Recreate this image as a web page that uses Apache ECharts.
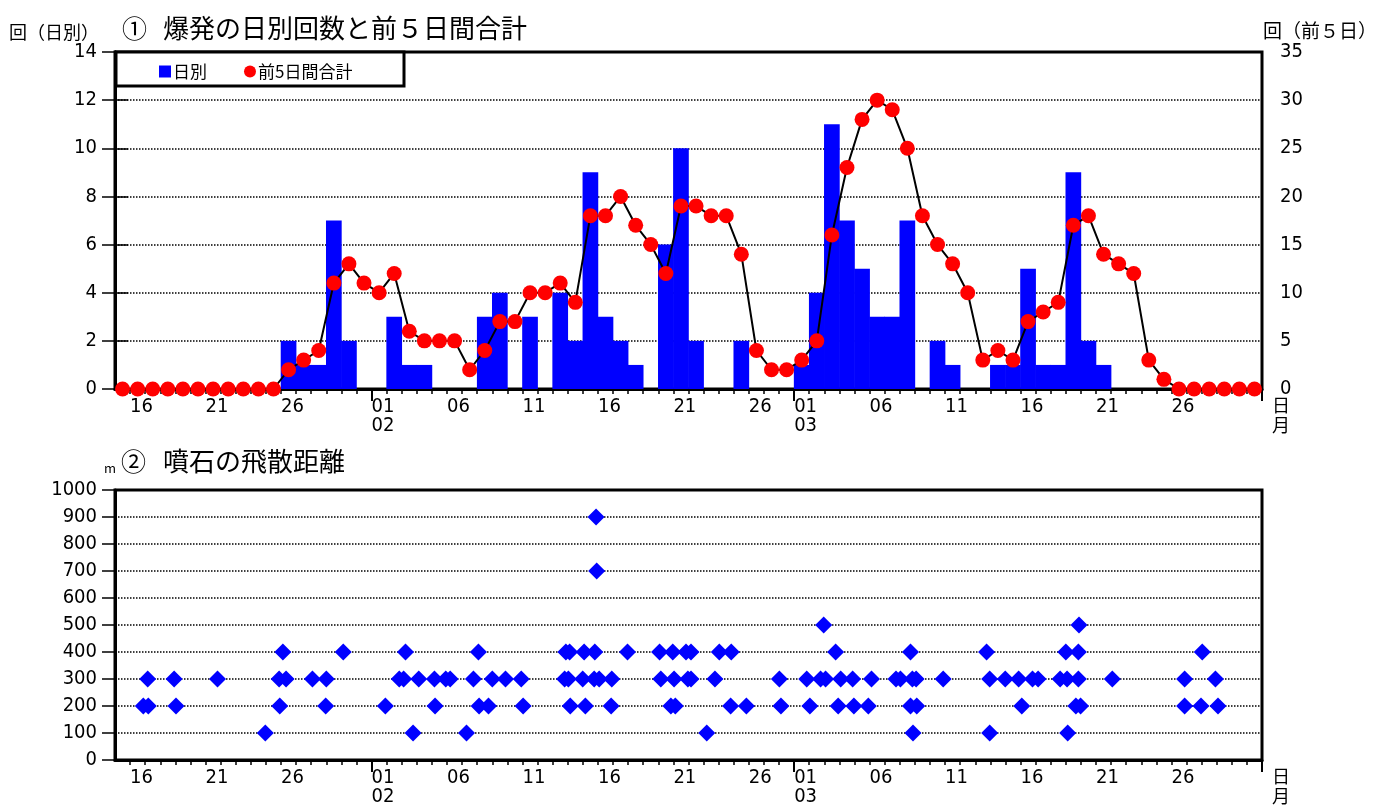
<!DOCTYPE html>
<html>
<head>
<meta charset="utf-8">
<script src="https://cdn.jsdelivr.net/npm/echarts@6/dist/echarts.min.js"></script>
<style>
  html, body { margin: 0; padding: 0; background: #fff; }
  #chart { width: 1398px; height: 807px; }
</style>
</head>
<body>
<div id="chart"></div>
<script>
// Period shown: 01-15 .. 03-31 (76 days, non-leap year)
const dayCount = 76;

// Daily explosion counts, one value per day starting 01-15
const dailyCounts = [
  // Jan 15-31
  0, 0, 0, 0, 0, 0, 0, 0, 0, 0, 0, 2, 1, 1, 7, 2, 0,
  // Feb 1-28
  0, 3, 1, 1, 0, 0, 0, 3, 4, 0, 3, 0, 4, 2, 9, 3, 2, 1, 0, 6, 10, 2, 0, 0, 2, 0, 0, 0,
  // Mar 1-31
  1, 4, 11, 7, 5, 3, 3, 7, 0, 2, 1, 0, 0, 1, 1, 5, 1, 1, 9, 2, 1, 0, 0, 0, 0, 0, 0, 0, 0, 0, 0
];

// Total of the preceding five days (right axis)
const fiveDayTotals = [
  // Jan 15-31
  0, 0, 0, 0, 0, 0, 0, 0, 0, 0, 0, 2, 3, 4, 11, 13, 11,
  // Feb 1-28
  10, 12, 6, 5, 5, 5, 2, 4, 7, 7, 10, 10, 11, 9, 18, 18, 20, 17, 15, 12, 19, 19, 18, 18, 14, 4, 2, 2,
  // Mar 1-31
  3, 5, 16, 23, 28, 30, 29, 25, 18, 15, 13, 10, 3, 4, 3, 7, 8, 9, 17, 18, 14, 13, 12, 3, 1, 0, 0, 0, 0, 0, 0
];

// Dates that carry a day label on the time axes
const labelDates = ['01-16', '01-21', '01-26', '02-01', '02-06', '02-11', '02-16', '02-21', '02-26',
                    '03-01', '03-06', '03-11', '03-16', '03-21', '03-26'];
// Month boundaries that get a long tick
const monthBoundaries = ['02-01', '03-01', '04-01'];

// Ballistic block reach: [date time, distance in m]
const ejectaTimes = [
  '01-16 21:00', '01-17 05:00', '01-17 04:00', '01-18 22:00', '01-19 01:00', '01-21 19:00', '01-24 23:00',
  '01-25 21:00', '01-25 22:00', '01-26 03:00', '01-26 08:00', '01-28 02:00', '01-29 00:00', '01-28 23:00',
  '01-30 03:00',
  '02-01 22:00', '02-02 20:00', '02-03 03:00', '02-03 06:00', '02-03 18:00', '02-04 03:00', '02-05 04:00',
  '02-05 05:00', '02-05 22:00', '02-06 05:00', '02-07 07:00', '02-07 18:00', '02-08 02:00', '02-08 03:00',
  '02-08 18:00', '02-09 00:00', '02-09 21:00', '02-10 22:00', '02-11 01:00', '02-13 21:00', '02-14 03:00',
  '02-15 02:00', '02-15 19:00', '02-15 21:00', '02-15 22:00', '02-13 19:00', '02-14 01:00', '02-14 23:45',
  '02-15 18:00', '02-16 02:00', '02-16 22:00', '02-14 04:00', '02-15 04:00', '02-16 21:00', '02-17 23:00',
  '02-20 02:00', '02-20 23:00', '02-21 20:00', '02-22 04:00', '02-20 04:00', '02-21 01:00', '02-21 23:00',
  '02-22 04:00', '02-20 20:00', '02-21 03:00', '02-23 05:00', '02-24 01:00', '02-24 20:00', '02-23 18:00',
  '02-24 19:00', '02-25 20:00', '02-28 00:30', '02-28 03:00',
  '03-01 20:00', '03-02 18:00', '03-03 02:00', '03-04 02:00', '03-04 21:00', '03-06 03:00', '03-07 18:00',
  '03-08 01:00', '03-08 20:00', '03-09 02:00', '03-02 23:00', '03-03 18:00', '03-08 17:00', '03-02 01:00',
  '03-03 22:00', '03-04 23:00', '03-05 22:00', '03-08 17:00', '03-09 03:00', '03-08 21:00', '03-10 21:00',
  '03-13 18:00', '03-13 23:00', '03-13 23:00', '03-14 23:45', '03-15 21:00', '03-16 19:00', '03-17 04:00',
  '03-16 02:00', '03-19 00:00', '03-19 20:00', '03-18 15:00', '03-19 02:00', '03-19 20:00', '03-19 16:00',
  '03-19 23:30', '03-19 21:00', '03-19 03:00', '03-22 02:00', '03-26 21:00', '03-26 21:00', '03-28 01:00',
  '03-27 23:00', '03-28 22:00', '03-29 02:00'
];
const ejectaDistances = [
  200, 200, 300, 300, 200, 300, 100,
  300, 200, 400, 300, 300, 300, 200,
  400,
  200, 300, 300, 400, 100, 300, 300,
  200, 300, 300, 100, 300, 400, 200,
  200, 300, 300, 300, 200, 400, 400,
  400, 400, 900, 700, 300, 300, 300,
  300, 300, 300, 200, 200, 200, 400,
  400, 400, 400, 400, 300, 300, 300,
  300, 200, 200, 100, 400, 400, 300,
  200, 200, 300, 200,
  300, 300, 300, 300, 300, 300, 300,
  300, 300, 300, 500, 400, 400, 200,
  200, 200, 200, 200, 200, 100, 300,
  400, 300, 100, 300, 300, 300, 300,
  200, 400, 400, 300, 300, 300, 200,
  200, 500, 100, 300, 300, 200, 400,
  200, 300, 200
];

// ---- date helpers: day index counted from 01-15 00:00 ----
const monthStartDay = { 1: 0, 2: 31, 3: 59, 4: 90 };
function dayIndex(md) {
  const [m, d] = md.split('-').map(Number);
  return monthStartDay[m] + d - 15;
}
function timeIndex(mdhm) {
  const [md, hm] = mdhm.split(' ');
  const [h, mi] = hm.split(':').map(Number);
  return dayIndex(md) + (h + mi / 60) / 24;
}

// axis label text per tick value
const labelText = { 0: '\n01' };
labelDates.forEach(md => {
  const [m, d] = md.split('-');
  labelText[dayIndex(md)] = d === '01' ? d + '\n' + m : d;
});
const labelValues = Object.keys(labelText).map(Number);
const monthTickValues = monthBoundaries.map(dayIndex);

const numFont = '"DejaVu Sans Condensed", "Liberation Sans", sans-serif';
const jpFont = '"Noto Sans CJK JP", "Noto Sans", sans-serif';

const gridLeft = 115, gridWidth = 1147;
const dayWidth = gridWidth / dayCount;

function dayAxes(gridIndex) {
  return [{
    type: 'value', gridIndex, min: 0, max: dayCount, interval: 1, position: 'bottom',
    axisLine: { show: true, onZero: false, lineStyle: { color: '#000', width: 3 } },
    axisTick: { show: true, length: 5, lineStyle: { color: '#000', width: 1.5 } },
    axisLabel: {
      customValues: labelValues,
      formatter: v => labelText[v] || '',
      align: 'left', verticalAlign: 'top', margin: 8,
      fontSize: 20, lineHeight: 19, fontFamily: numFont, color: '#000'
    },
    splitLine: { show: false }
  }, {
    type: 'value', gridIndex, min: 0, max: dayCount, position: 'bottom',
    axisLine: { show: false },
    axisTick: { show: true, customValues: monthTickValues, length: 12, lineStyle: { color: '#000', width: 2 } },
    axisLabel: { show: false },
    splitLine: { show: false }
  }];
}

const dottedGrid = { show: true, lineStyle: { color: '#000', width: 1.5, type: [1.5, 1.5] } };
const yLabel = { fontSize: 20, fontFamily: numFont, color: '#000', margin: 18, formatter: v => String(v) };
const yTick = { show: true, length: 13, lineStyle: { color: '#000', width: 1.5 } };
const yLine = { show: true, lineStyle: { color: '#000', width: 3 } };

const chart = echarts.init(document.getElementById('chart'), null, { renderer: 'canvas' });

chart.setOption({
  animation: false,
  backgroundColor: '#fff',
  grid: [
    { left: gridLeft, width: gridWidth, top: 52, height: 337, show: true, borderColor: '#000', borderWidth: 3, backgroundColor: 'transparent' },
    { left: gridLeft, width: gridWidth, top: 490, height: 270, show: true, borderColor: '#000', borderWidth: 3, backgroundColor: 'transparent' }
  ],
  xAxis: [...dayAxes(0), ...dayAxes(1)],
  yAxis: [
    { type: 'value', gridIndex: 0, min: 0, max: 14, interval: 2, position: 'left',
      axisLine: yLine, axisTick: yTick, axisLabel: yLabel, splitLine: dottedGrid },
    { type: 'value', gridIndex: 0, min: 0, max: 35, interval: 5, position: 'right',
      axisLine: yLine, axisTick: yTick, axisLabel: yLabel, splitLine: { show: false } },
    { type: 'value', gridIndex: 1, min: 0, max: 1000, interval: 100, position: 'left',
      axisLine: yLine, axisTick: yTick, axisLabel: yLabel, splitLine: dottedGrid }
  ],
  legend: {
    left: 159, top: 63, z: 20, padding: 0,
    selectedMode: false,
    itemWidth: 12, itemHeight: 12, itemGap: 37,
    textStyle: { fontSize: 17, fontFamily: jpFont, color: '#000', padding: [0, 0, 0, -3] },
    data: [{ name: '日別', icon: 'rect' }, { name: '前5日間合計', icon: 'circle', itemStyle: { color: '#ff0000' } }]
  },
  graphic: [
    { type: 'rect', z: 15, shape: { x: 116, y: 52, width: 288, height: 34 },
      style: { fill: '#fff', stroke: '#000', lineWidth: 3 } },
    { type: 'text', x: 122, y: 28, style: { text: '①', font: '25px ' + jpFont, fill: '#000', verticalAlign: 'middle' } },
    { type: 'text', x: 163, y: 28, style: { text: '爆発の日別回数と前５日間合計', font: '26px ' + jpFont, fill: '#000', verticalAlign: 'middle' } },
    { type: 'text', x: 9, y: 32, style: { text: '回（日別）', font: '18px ' + jpFont, fill: '#000', verticalAlign: 'middle' } },
    { type: 'text', x: 1263, y: 31, style: { text: '回（前５日）', font: '19px ' + jpFont, fill: '#000', verticalAlign: 'middle' } },
    { type: 'text', x: 1272, y: 395, style: { text: '日\n月', font: '18px ' + jpFont, lineHeight: 20, fill: '#000' } },
    { type: 'text', x: 121, y: 461, style: { text: '②', font: '25px ' + jpFont, fill: '#000', verticalAlign: 'middle' } },
    { type: 'text', x: 163, y: 461, style: { text: '噴石の飛散距離', font: '26px ' + jpFont, fill: '#000', verticalAlign: 'middle' } },
    { type: 'text', x: 104, y: 468, style: { text: 'm', font: '13px ' + jpFont, fill: '#000', verticalAlign: 'middle' } },
    { type: 'text', x: 1272, y: 766, style: { text: '日\n月', font: '18px ' + jpFont, lineHeight: 20, fill: '#000' } }
  ],
  series: [
    {
      name: '日別', type: 'bar', xAxisIndex: 0, yAxisIndex: 0,
      barWidth: dayWidth + 0.6,
      itemStyle: { color: '#0000ff' },
      data: dailyCounts.map((v, i) => [i + 0.5, v])
    },
    {
      name: '前5日間合計', type: 'line', xAxisIndex: 0, yAxisIndex: 1,
      clip: false, z: 5,
      symbol: 'circle', symbolSize: 15,
      color: '#ff0000',
      itemStyle: { color: '#ff0000' },
      lineStyle: { color: '#000', width: 2 },
      data: fiveDayTotals.map((v, i) => [i + 0.5, v])
    },
    {
      name: '噴石', type: 'scatter', xAxisIndex: 2, yAxisIndex: 2,
      symbol: 'diamond', symbolSize: 17,
      itemStyle: { color: '#0000ff', opacity: 1 },
      data: ejectaTimes.map((t, i) => [timeIndex(t), ejectaDistances[i]])
    }
  ]
});
</script>
</body>
</html>
